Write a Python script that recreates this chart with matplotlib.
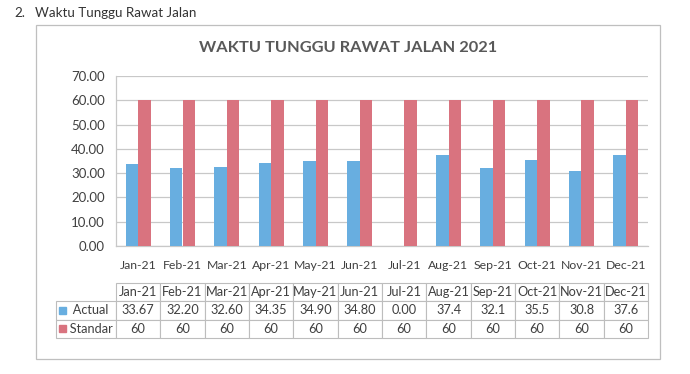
import matplotlib.pyplot as plt
from matplotlib.patches import Rectangle
import numpy as np

# data
months   = ['Jan-21','Feb-21','Mar-21','Apr-21','May-21','Jun-21',
            'Jul-21','Aug-21','Sep-21','Oct-21','Nov-21','Dec-21']
actual   = [33.67, 32.20, 32.60, 34.35, 34.90, 34.80, 0.00, 37.4, 32.1, 35.5, 30.8, 37.6]
actual_s = ['33.67','32.20','32.60','34.35','34.90','34.80','0.00','37.4','32.1','35.5','30.8','37.6']
standar  = [60]*12
standar_s = ['60']*12

c_act = '#68aee0'
c_std = '#d9737f'
txt   = '#404040'
grid  = '#c8c8c8'

plt.rcParams['font.family'] = ['Lato', 'DejaVu Sans']

W, H = 690, 374
fig = plt.figure(figsize=(W/100, H/100), dpi=100)

# axes in pixel box: left 116, right 648, top 76, bottom 246
L, R, T, B = 116, 648, 76, 246
ax = fig.add_axes([L/W, 1-B/H, (R-L)/W, (B-T)/H])

x = np.arange(len(months))
bw = 0.285
ax.bar(x - bw/2, actual, bw, color=c_act, label='Actual', zorder=3)
ax.bar(x + bw/2, standar, bw, color=c_std, label='Standar', zorder=3)

ax.set_xlim(-0.5, len(months)-0.5)
ax.set_ylim(0, 70)
ax.set_yticks(np.arange(0, 71, 10))
ax.set_yticklabels(['%.2f' % v for v in np.arange(0, 71, 10)], fontsize=9.5, color=txt)
ax.set_xticks(x)
ax.set_xticklabels(months, fontsize=8.8, color=txt)
ax.tick_params(axis='both', length=0, pad=8)
ax.tick_params(axis='x', pad=10)
ax.yaxis.grid(True, color=grid, linewidth=0.9, zorder=0)
for s in ['top', 'right']:
    ax.spines[s].set_visible(False)
for s in ['left', 'bottom']:
    ax.spines[s].set_color(grid)
    ax.spines[s].set_linewidth(0.9)

# data table under the chart (first column holds the series names)
tl, tr, tt, tb = 56, 648, 283, 338
lab_w = (L-tl)/(R-L)
tab = ax.table(cellText=[['   Actual'] + actual_s, ['   Standar'] + standar_s],
               colLabels=[''] + months,
               colWidths=[lab_w] + [1/len(months)]*len(months),
               cellLoc='center',
               bbox=[-lab_w, -(tb-B)/(B-T), 1+lab_w, (tb-tt)/(B-T)])
tab.auto_set_font_size(False)
for (r, c), cell in tab.get_celld().items():
    cell.set_edgecolor('#bdbdbd')
    cell.set_linewidth(0.8)
    cell.get_text().set_fontsize(9.2)
    cell.get_text().set_color(txt)
    if c == 0:
        cell._loc = 'left'
        cell.PAD = 0.01
    if r == 0 and c == 0:
        cell.visible_edges = ''

# legend keys in the row label cells
row_h = (tb-tt)/3
for i, col in enumerate([c_act, c_std]):
    yc = tt + row_h*(i+1.5)
    fig.patches.append(Rectangle((59/W, 1-(yc+3.5)/H), 7/W, 7/H,
                                 transform=fig.transFigure, color=col, zorder=5))

# title and heading
fig.text(348/W, 1-48/H, 'WAKTU TUNGGU RAWAT JALAN 2021', ha='center', va='center',
         fontsize=11.8, fontweight='bold', color='#595959')
fig.text(14/W, 1-13/H, '2.', ha='left', va='center', fontsize=9.6, color='#333333')
fig.text(35/W, 1-13/H, 'Waktu Tunggu Rawat Jalan', ha='left', va='center', fontsize=9.6, color='#333333')

# outer chart frame
fig.patches.append(Rectangle((36/W, 1-359/H), (660-36)/W, (359-25)/H, transform=fig.transFigure,
                             fill=False, edgecolor='#bfbfbf', linewidth=0.9))

fig.savefig('out.png', dpi=100)
